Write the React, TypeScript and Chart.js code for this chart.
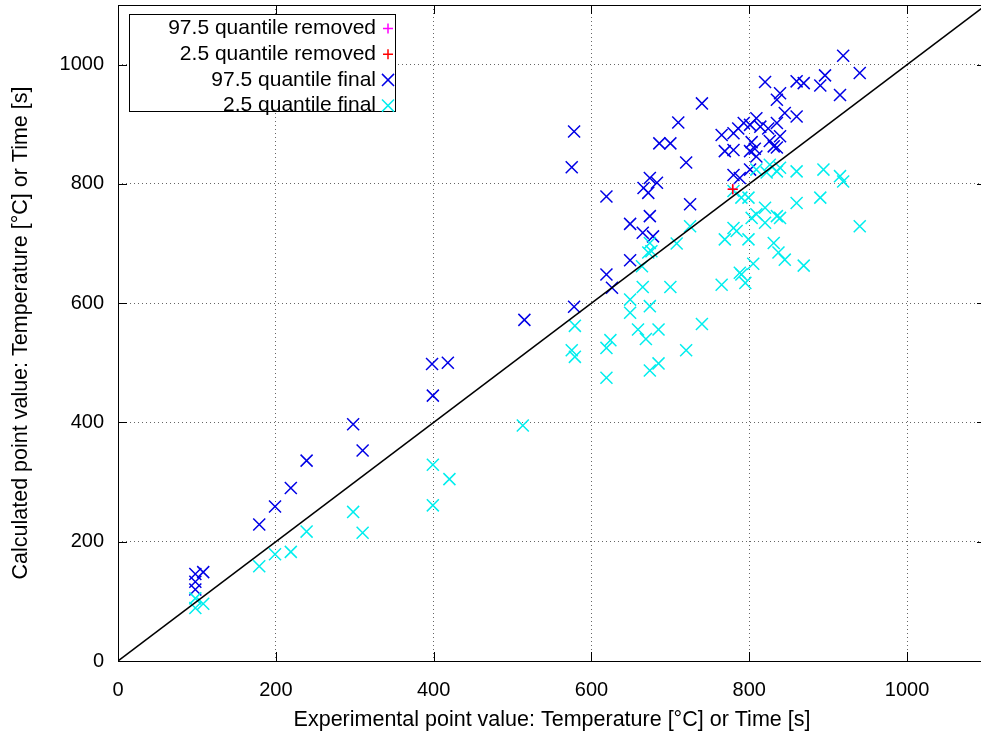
import React, { useEffect, useRef } from 'react';
import { Chart, registerables } from 'chart.js';

Chart.register(...registerables);

const tickValues = [0, 200, 400, 600, 800, 1000];
const axisMin = 0;
const axisMax = 1100;
const xTitle = 'Experimental point value: Temperature [°C] or Time [s]';
const yTitle = 'Calculated point value: Temperature [°C] or Time [s]';

const labelRemoved975 = '97.5 quantile removed';
const labelRemoved25 = '2.5 quantile removed';
const labelFinal975 = '97.5 quantile final';
const labelFinal25 = '2.5 quantile final';

const removed975: [number, number][] = [[779, 791]];
const removed25: [number, number][] = [[779, 791]];

const final975: [number, number][] = [
  [98, 146], [98, 133], [108, 149], [98, 120],
  [179, 229], [199, 259], [219, 290], [239, 336], [298, 397], [310, 353],
  [399, 445], [398, 498], [418, 500],
  [515, 572], [578, 594], [575, 828], [578, 888],
  [619, 779], [619, 648], [626, 626], [649, 733], [649, 672], [665, 718],
  [678, 712], [674, 746], [666, 793], [672, 785], [674, 810], [683, 802],
  [686, 868], [700, 868], [710, 903], [720, 836], [725, 766], [740, 935],
  [765, 882], [769, 855], [780, 857], [780, 885], [786, 893], [793, 902],
  [801, 899], [809, 910], [814, 896], [824, 893], [835, 902], [845, 919],
  [860, 913], [839, 880], [803, 870], [807, 859], [801, 855], [826, 872],
  [831, 863], [835, 861], [809, 846], [780, 815], [788, 810], [801, 824],
  [820, 971], [860, 972], [869, 969], [896, 982], [890, 965], [915, 949],
  [839, 952], [835, 941], [919, 1015], [940, 986],
];

const final25: [number, number][] = [
  [98, 105], [98, 89], [108, 96], [179, 159], [199, 179], [219, 183],
  [239, 217], [298, 250], [310, 215], [399, 329], [399, 261], [420, 305],
  [513, 395],
  [579, 562], [575, 521], [579, 510], [624, 538], [619, 525], [619, 475],
  [649, 606], [649, 584], [659, 556], [665, 627], [674, 595], [669, 540],
  [685, 556], [685, 499], [674, 487], [700, 627], [720, 521], [740, 565],
  [664, 662], [674, 701], [676, 687], [672, 685], [708, 700], [725, 729],
  [765, 631], [790, 648], [795, 634], [805, 666], [788, 651], [769, 707],
  [780, 726], [784, 721], [799, 707], [780, 788], [790, 777], [799, 777],
  [803, 743], [809, 749], [820, 760], [820, 735], [835, 746], [839, 743],
  [831, 701], [837, 685], [845, 673], [869, 663], [860, 768], [890, 777],
  [940, 729], [809, 824], [822, 819], [826, 832], [835, 821], [839, 827],
  [860, 821], [894, 824], [915, 813], [919, 804],
];

const identityLine: [number, number][] = [[axisMin, axisMin], [axisMax, axisMax]];

const FONT = '"Liberation Sans", Arial, sans-serif';
const TICK_FONT_SIZE = 20;
const TITLE_FONT_SIZE = 21.5;
const LEGEND_FONT_SIZE = 21;
const TICK_LEN = 9;

const toPts = (arr: [number, number][]) => arr.map(([x, y]) => ({ x, y }));

const framePlugin = {
  id: 'gnuFrame',
  beforeDatasetsDraw(chart: any) {
    const { ctx, chartArea: a, scales } = chart;
    ctx.save();
    ctx.strokeStyle = '#000';
    ctx.lineWidth = 1;
    ctx.beginPath();
    for (const v of tickValues) {
      const px = Math.round(scales.x.getPixelForValue(v)) + 0.5;
      ctx.moveTo(px, a.bottom);
      ctx.lineTo(px, a.bottom - TICK_LEN);
      ctx.moveTo(px, a.top);
      ctx.lineTo(px, a.top + TICK_LEN);
      const py = Math.round(scales.y.getPixelForValue(v)) + 0.5;
      ctx.moveTo(a.left, py);
      ctx.lineTo(a.left + TICK_LEN, py);
      ctx.moveTo(a.right, py);
      ctx.lineTo(a.right - TICK_LEN, py);
    }
    ctx.stroke();
    ctx.strokeRect(Math.round(a.left) + 0.5, Math.round(a.top) + 0.5, Math.round(a.right - a.left), Math.round(a.bottom - a.top));
    ctx.restore();
  },
  afterDraw(chart: any) {
    const { ctx } = chart;
    const boxX = 129, boxY = 14, boxW = 266, boxH = 97;
    ctx.save();
    ctx.fillStyle = '#fff';
    ctx.fillRect(boxX, boxY, boxW, boxH);
    ctx.strokeStyle = '#000';
    ctx.lineWidth = 1;
    ctx.strokeRect(boxX + 0.5, boxY + 0.5, boxW, boxH);
    ctx.font = `${LEGEND_FONT_SIZE}px ${FONT}`;
    ctx.textAlign = 'right';
    ctx.textBaseline = 'middle';
    const items = chart.data.datasets.filter((d: any) => d.inLegend);
    items.forEach((d: any, i: number) => {
      const cy = 28.5 + i * 25.7;
      ctx.fillStyle = '#000';
      ctx.fillText(d.label, 376, cy);
      const mx = 388;
      ctx.strokeStyle = d.borderColor;
      ctx.lineWidth = d.borderWidth;
      ctx.beginPath();
      if (d.pointStyle === 'cross') {
        const r = d.pointRadius;
        ctx.moveTo(mx - r, cy); ctx.lineTo(mx + r, cy);
        ctx.moveTo(mx, cy - r); ctx.lineTo(mx, cy + r);
      } else {
        const r = d.pointRadius * Math.SQRT1_2;
        ctx.moveTo(mx - r, cy - r); ctx.lineTo(mx + r, cy + r);
        ctx.moveTo(mx - r, cy + r); ctx.lineTo(mx + r, cy - r);
      }
      ctx.stroke();
    });
    ctx.restore();
  },
};

const zeroPad = (s: any) => {
  s.paddingTop = 0;
  s.paddingBottom = 0;
  s.paddingLeft = 0;
  s.paddingRight = 0;
};

export default function App() {
  const ref = useRef<HTMLCanvasElement | null>(null);

  useEffect(() => {
    if (!ref.current) return;
    const markerDs = (label: string, data: [number, number][], color: string, style: string, radius: number, order: number) => ({
      type: 'scatter' as const,
      label,
      data: toPts(data),
      borderColor: color,
      backgroundColor: color,
      pointStyle: style,
      pointRadius: radius,
      pointHoverRadius: radius,
      borderWidth: 1.5,
      pointBorderWidth: 1.5,
      showLine: false,
      order,
      inLegend: true,
    });

    const chart = new Chart(ref.current, {
      type: 'scatter',
      data: {
        datasets: [
          markerDs(labelRemoved975, removed975, '#ff00ff', 'cross', 5, 1),
          markerDs(labelRemoved25, removed25, '#ff0000', 'cross', 5, 0),
          markerDs(labelFinal975, final975, '#0000e6', 'crossRot', 8.5, 4),
          markerDs(labelFinal25, final25, '#00eeee', 'crossRot', 8.5, 3),
          {
            type: 'line' as const,
            label: 'y = x',
            data: toPts(identityLine),
            borderColor: '#000',
            borderWidth: 1.5,
            pointRadius: 0,
            showLine: true,
            fill: false,
            order: 2,
            inLegend: false,
          } as any,
        ],
      },
      options: {
        responsive: false,
        animation: false,
        events: [],
        layout: { autoPadding: false, padding: { left: 0, top: 5, right: 0, bottom: 0 } },
        plugins: {
          legend: { display: false },
          tooltip: { enabled: false },
        },
        scales: {
          x: {
            type: 'linear',
            min: axisMin,
            max: axisMax,
            afterFit: (s: any) => { s.height = 81; zeroPad(s); },
            afterBuildTicks: (s: any) => { s.ticks = tickValues.map((v) => ({ value: v })); },
            grid: { color: '#666', lineWidth: 1, drawTicks: false },
            border: { display: false, dash: [1, 3] },
            ticks: {
              autoSkip: false,
              maxRotation: 0,
              padding: 17,
              color: '#000',
              font: { family: FONT, size: TICK_FONT_SIZE },
              callback: (v: any) => String(v),
            },
            title: {
              display: true,
              text: xTitle,
              color: '#000',
              font: { family: FONT, size: TITLE_FONT_SIZE },
              padding: { top: 10, bottom: 9 },
            },
          },
          y: {
            type: 'linear',
            min: axisMin,
            max: axisMax,
            afterFit: (s: any) => { s.width = 118; zeroPad(s); },
            afterBuildTicks: (s: any) => { s.ticks = tickValues.map((v) => ({ value: v })); },
            grid: { color: '#666', lineWidth: 1, drawTicks: false },
            border: { display: false, dash: [1, 3] },
            ticks: {
              autoSkip: false,
              padding: 14,
              color: '#000',
              font: { family: FONT, size: TICK_FONT_SIZE },
              callback: (v: any) => String(v),
            },
            title: {
              display: true,
              text: yTitle,
              color: '#000',
              font: { family: FONT, size: TITLE_FONT_SIZE },
              padding: { top: 8, bottom: 8 },
            },
          },
        },
      } as any,
      plugins: [framePlugin],
    });
    return () => chart.destroy();
  }, []);

  return (
    <div style={{ position: 'fixed', left: 0, top: 0, width: 981, height: 742, overflow: 'hidden', background: '#fff' }}>
      <canvas ref={ref} width={986} height={742} style={{ width: 986, height: 742, display: 'block' }} />
    </div>
  );
}
